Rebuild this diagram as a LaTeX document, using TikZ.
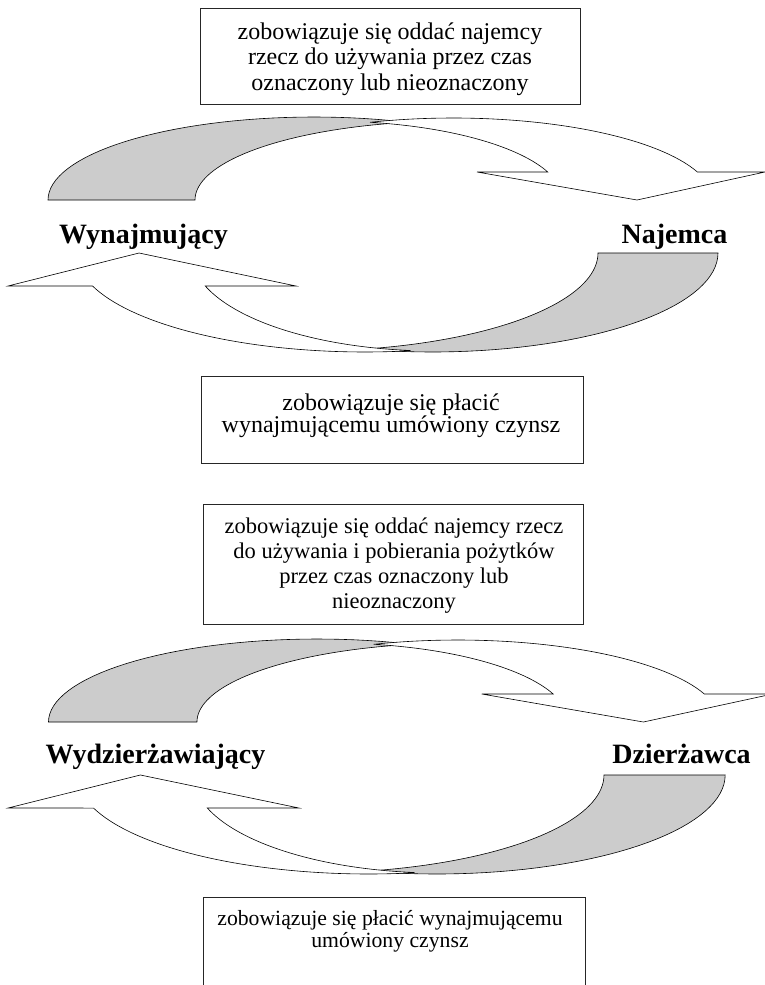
\documentclass[tikz,border=0pt]{standalone}
\usepackage{fontspec}
\setmainfont{Liberation Serif}
\begin{document}
\begin{tikzpicture}[x=1pt, y=-1pt,
    every node/.style={inner sep=0pt, anchor=base},
    obowiazek/.style={align=center, font=\fontsize{24}{25.5}\selectfont},
    strona/.style={font=\bfseries\fontsize{28}{30}\selectfont},
    ramka/.style={draw=black!85, line width=0.9pt},
    lico/.style={draw, line width=0.6pt, fill=white},
    spod/.style={draw, line width=0.6pt, fill=gray!40}]
    \useasboundingbox[fill=white] (0,0) rectangle (765,985);

    % Flechas curvas de los dos esquemas (el segundo va 522 px más abajo).
    \foreach \dy/\sx in {0/1, 522/1.01} {
        \begin{scope}[shift={(0,\dy)}, xscale=\sx]
            % flecha de arriba: dorso gris y cara blanca con la punta
            \draw[spod] plot[domain=180:71, samples=40] ({314+266*cos(\x)},{200-83*sin(\x)})
                -- plot[domain=102:180, samples=40] ({454+259*cos(\x)},{200-79*sin(\x)}) -- cycle;
            \draw[lico] plot[domain=108.6:19.97, samples=40] ({453+260*cos(\x)},{200-82*sin(\x)})
                -- (765,172) -- (637,200) -- (477,172)
                -- plot[domain=20.76:79.7, samples=40] ({328+235*cos(\x)},{200-79*sin(\x)}) -- cycle;
            % flecha de abajo
            \draw[spod] plot[domain=0:104.2, samples=40] ({432+286*cos(\x)},{253+99*sin(\x)})
                -- plot[domain=79.1:0, samples=40] ({307+291*cos(\x)},{253+98*sin(\x)}) -- cycle;
            \draw[lico] plot[domain=81:160.5, samples=40] ({365+289*cos(\x)},{253+99*sin(\x)})
                -- (8,286) -- (139,253) -- (296,286)
                -- plot[domain=160.3:95.9, samples=40] ({435+244*cos(\x)},{253+98*sin(\x)}) -- cycle;
        \end{scope}
    }

    % Partes del contrato.
    \node[strona] (wynajmujacy) at (143.5,243) {Wynajmujący};
    \node[strona] (najemca) at (674.5,243) {Najemca};
    \node[strona] (wydzierzawiajacy) at (155.5,763) {Wydzierżawiający};
    \node[strona] (dzierzawca) at (681.5,763) {Dzierżawca};

    % Recuadros con las obligaciones de cada parte (base = última línea).
    \draw[ramka] (200,8) rectangle (580,104);
    \draw[ramka] (201,376) rectangle (583,463);
    \draw[ramka] (203,504) rectangle (583,624);
    \draw[ramka] (203,985) -- (203,897) -- (585,897) -- (585,985);
    \node[obowiazek] (oddac) at (390,90)
        {zobowiązuje się oddać najemcy\\rzecz do używania przez czas\\oznaczony lub nieoznaczony};
    \node[obowiazek, font=\fontsize{24}{22}\selectfont] (placic) at (391,432)
        {zobowiązuje się płacić\\wynajmującemu umówiony czynsz};
    \node[obowiazek, font=\fontsize{22.5}{25}\selectfont] (oddac dzierzawa) at (394,608)
        {zobowiązuje się oddać najemcy rzecz\\do używania i pobierania pożytków\\przez czas oznaczony lub\\nieoznaczony};
    \node[obowiazek, font=\fontsize{21.7}{22}\selectfont] (placic dzierzawa) at (390,947)
        {zobowiązuje się płacić wynajmującemu\\umówiony czynsz};
\end{tikzpicture}
\end{document}
